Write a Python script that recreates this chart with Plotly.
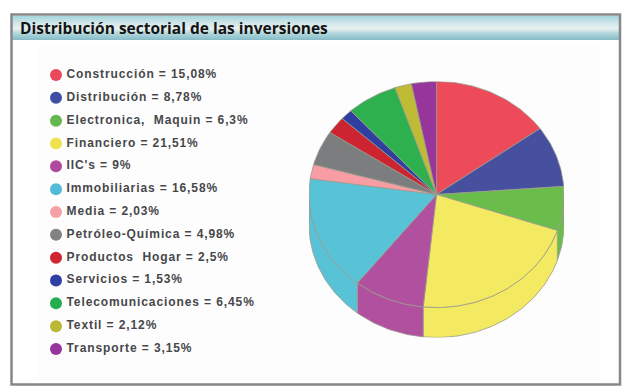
import math
import plotly.graph_objects as go

title = "Distribución sectorial de las inversiones"
sectors = ["Construcción", "Distribución", "Electronica,  Maquin", "Financiero", "IIC's",
           "Immobiliarias", "Media", "Petróleo-Química", "Productos  Hogar", "Servicios",
           "Telecomunicaciones", "Textil", "Transporte"]
value_labels = ["15,08", "8,78", "6,3", "21,51", "9", "16,58", "2,03", "4,98", "2,5", "1,53",
                "6,45", "2,12", "3,15"]
values = [15.08, 8.78, 6.3, 21.51, 9, 16.58, 2.03, 4.98, 2.5, 1.53, 6.45, 2.12, 3.15]
colors = ["#ee4b5a", "#46509f", "#6abd4b", "#f3ea62", "#b0509f", "#58c3d6", "#f79da3",
          "#7b7d7f", "#cc2430", "#2f3fa0", "#2fb04f", "#c0bb35", "#96359a"]
legend_colors = ["#e9495c", "#3e4ea5", "#62b84f", "#f0e24f", "#b0489f", "#52bcd8", "#f5a0a5",
                 "#808284", "#d02430", "#2d3fa5", "#25ad50", "#bcb834", "#97349c"]

W, H = 627, 392
DEPTH = 0.265   # wall height in units of the top-face radius
EDGE = "#9a9a8e"

fig = go.Figure()
total = sum(values)


def arc(a0, a1, drop=0.0):
    n = max(2, int(abs(a1 - a0) / 0.02))
    angs = [a0 + (a1 - a0) * i / n for i in range(n + 1)]
    return [math.sin(a) for a in angs], [math.cos(a) - drop for a in angs]


# wall of the disc: only the part of the rim on the lower half is visible
cum = 0.0
walls, tops = [], []
for name, v, c in zip(sectors, values, colors):
    a0 = cum / total * 2 * math.pi
    cum += v
    a1 = cum / total * 2 * math.pi
    tops.append((name, a0, a1, c))
    lo, hi = max(a0, math.pi / 2), min(a1, 3 * math.pi / 2)
    if lo < hi:
        walls.append((name, lo, hi, c))

for name, lo, hi, c in walls:
    xt, yt = arc(lo, hi)
    xb, yb = arc(lo, hi, DEPTH)
    fig.add_trace(go.Scatter(x=xt + xb[::-1] + xt[:1], y=yt + yb[::-1] + yt[:1], mode="lines",
                             fill="toself", fillcolor=c, line=dict(color=EDGE, width=0.8),
                             hoverinfo="skip", showlegend=False))

for name, a0, a1, c in tops:
    xa, ya = arc(a0, a1)
    fig.add_trace(go.Scatter(x=[0] + xa + [0], y=[0] + ya + [0], mode="lines",
                             fill="toself", fillcolor=c, line=dict(color=EDGE, width=0.8),
                             name=name, showlegend=False))

# legend as its own category axis
labels = [f"{s} = {v}%" for s, v in zip(sectors, value_labels)]
fig.add_trace(go.Scatter(x=[0] * len(sectors), y=sectors, xaxis="x2", yaxis="y2",
                         mode="markers+text", text=labels,
                         textposition="middle right",
                         textfont=dict(family="Liberation Sans", size=12, color="#47474a", weight="bold"),
                         marker=dict(size=12, color=legend_colors, line=dict(width=0)),
                         hoverinfo="skip", showlegend=False, cliponaxis=False))

# panel: frame, header gradient
shapes = [
    dict(type="rect", xref="paper", yref="paper", x0=38 / W, x1=600 / W, y0=1 - 380 / H, y1=1 - 45 / H,
         fillcolor="#fdfdfd", line_width=0, layer="below"),
]
stops = [(16, (168, 214, 221)), (22, (205, 229, 233)), (28, (232, 240, 240)),
         (33, (176, 214, 220)), (40, (130, 186, 198))]
for y in range(16, 40):
    for (y0, c0), (y1, c1) in zip(stops, stops[1:]):
        if y0 <= y <= y1:
            t = (y - y0) / (y1 - y0)
            col = "rgb(%d,%d,%d)" % tuple(round(p + (q - p) * t) for p, q in zip(c0, c1))
            break
    shapes.append(dict(type="rect", xref="paper", yref="paper", x0=12 / W, x1=619 / W,
                       y0=1 - (y + 1) / H, y1=1 - y / H, fillcolor=col, line_width=0, layer="below"))
shapes.append(dict(type="rect", xref="paper", yref="paper", x0=11.5 / W, x1=620 / W,
                   y0=1 - 384.5 / H, y1=1 - 14.5 / H, line=dict(color="#85888a", width=2.5),
                   layer="below"))

fig.update_layout(
    width=W, height=H, margin=dict(l=0, r=0, t=0, b=0),
    paper_bgcolor="#ffffff", plot_bgcolor="rgba(0,0,0,0)",
    shapes=shapes,
    xaxis=dict(domain=[309 / W, 564 / W], range=[-1, 1], visible=False),
    yaxis=dict(domain=[1 - 337.5 / H, 1 - 81.5 / H], range=[-1 - DEPTH, 1], visible=False),
    xaxis2=dict(domain=[56 / W, 300 / W], range=[0.0, 4.0], visible=False, anchor="y2"),
    yaxis2=dict(domain=[1 - 360.4 / H, 1 - 63.6 / H], autorange=False, range=[12.5, -0.5],
                visible=False, anchor="x2", type="category",
                categoryorder="array", categoryarray=sectors),
    annotations=[dict(text=f"<b>{title}</b>", xref="paper", yref="paper", x=17.5 / W, y=1 - 28 / H,
                      xanchor="left", yanchor="middle", showarrow=False,
                      font=dict(family="Open Sans", size=15.5, color="#141414"))],
)
post = ("document.body.style.margin='0';"
        "document.querySelectorAll('.textpoint text').forEach(function(t){"
        "t.style.letterSpacing='0.9px';t.setAttribute('dx','2');});")
fig.write_html("out.html", post_script=post, config={"displayModeBar": False})
